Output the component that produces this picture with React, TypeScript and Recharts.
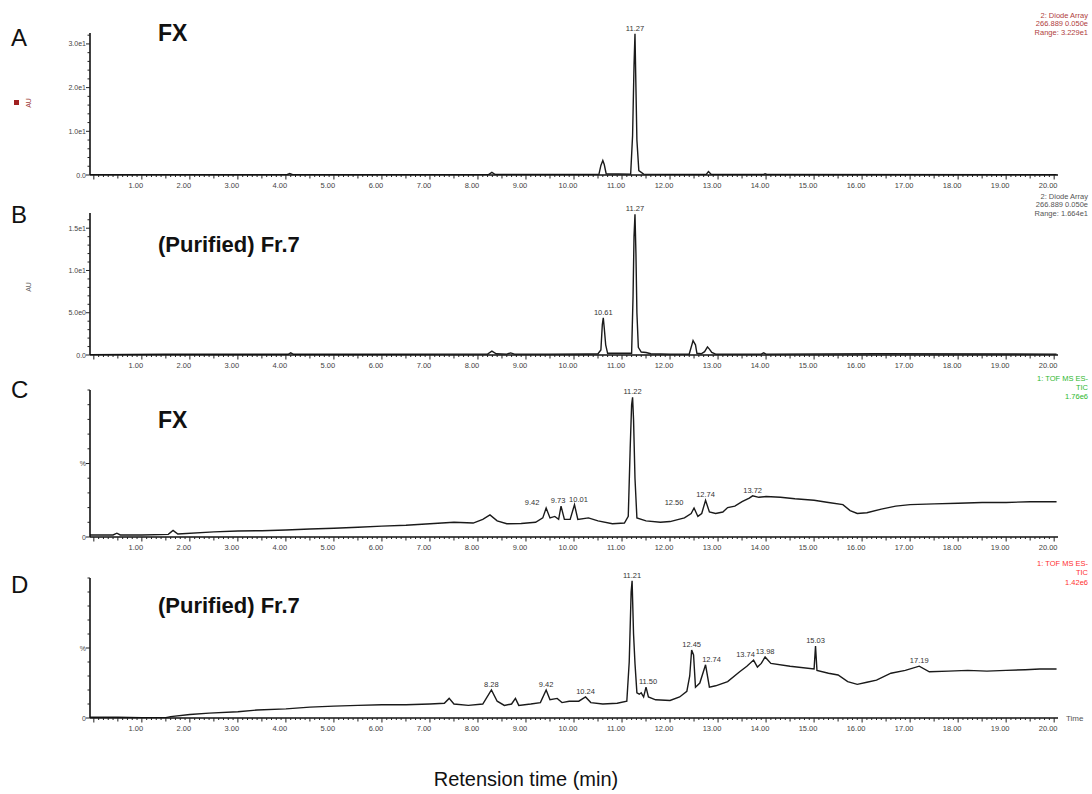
import React from 'react';
import { LineChart, Line, XAxis, YAxis, ReferenceDot } from 'recharts';

const FONT = 'Arial, "Liberation Sans", Helvetica, sans-serif';

// ---------- data: [retention time (min), response] ----------
const traceA: [number, number][] = [
  [-0.08, 0.05], [1.0, 0.05], [2.0, 0.08], [4.02, 0.08], [4.08, 0.35], [4.14, 0.08], [6.0, 0.08],
  [8.22, 0.1], [8.29, 0.6], [8.36, 0.12], [10.0, 0.1], [10.52, 0.2], [10.56, 2.2], [10.6, 3.3],
  [10.63, 2.4], [10.67, 0.3], [11.18, 0.2], [11.22, 9], [11.25, 25], [11.27, 32.3], [11.29, 20],
  [11.31, 8], [11.35, 1], [11.45, 0.2], [12.75, 0.1], [12.8, 0.8], [12.86, 0.1], [13.94, 0.1],
  [13.98, 0.3], [14.03, 0.1], [20.05, 0.05],
];

const traceB: [number, number][] = [
  [-0.08, 0.05], [1.5, 0.08], [3.0, 0.08], [4.05, 0.08], [4.1, 0.25], [4.16, 0.08], [6.0, 0.08],
  [7.5, 0.1], [8.2, 0.12], [8.29, 0.45], [8.38, 0.15], [8.6, 0.1], [8.68, 0.25], [8.76, 0.1],
  [9.5, 0.1], [10.3, 0.12], [10.5, 0.15], [10.56, 0.6], [10.59, 3.6], [10.61, 4.4], [10.63, 3.2],
  [10.66, 1.2], [10.7, 0.2], [11.2, 0.2], [11.23, 7], [11.25, 14], [11.27, 16.64], [11.29, 12],
  [11.31, 5], [11.34, 0.9], [11.4, 0.35], [11.5, 0.3], [11.6, 0.15], [12.0, 0.1], [12.4, 0.12],
  [12.48, 1.7], [12.5, 1.5], [12.53, 1.2], [12.56, 0.2], [12.65, 0.15], [12.72, 0.4], [12.78, 0.95],
  [12.82, 0.7], [12.87, 0.3], [12.95, 0.1], [13.9, 0.1], [13.95, 0.25], [14.0, 0.1], [16.3, 0.15],
  [20.05, 0.1],
];

const traceC: [number, number][] = [
  [-0.08, 1.4], [0.4, 1.4], [0.48, 2.6], [0.55, 1.4], [1.0, 1.4], [1.55, 1.8], [1.65, 4.5], [1.75, 2.0],
  [2.5, 3.5], [3.0, 4.1], [3.5, 4.3], [4.0, 4.8], [4.5, 5.4], [5.0, 6.0], [5.5, 6.6], [6.0, 7.4],
  [6.5, 8.0], [7.0, 9.0], [7.5, 10.0], [7.9, 9.5], [8.1, 12], [8.25, 15], [8.4, 11], [8.6, 9],
  [8.9, 9.2], [9.2, 10], [9.35, 13], [9.42, 19.7], [9.5, 13], [9.6, 14], [9.68, 12], [9.73, 21],
  [9.8, 12], [9.92, 12], [10.01, 22], [10.08, 12], [10.3, 13], [10.5, 11], [10.8, 9], [11.05, 9.5],
  [11.13, 14], [11.17, 60], [11.2, 90], [11.22, 95], [11.24, 80], [11.27, 40], [11.31, 13], [11.5, 11],
  [11.8, 10], [12.0, 10.5], [12.3, 13], [12.44, 16], [12.5, 19.7], [12.58, 14], [12.66, 16], [12.74, 25],
  [12.82, 17], [12.95, 16], [13.1, 17], [13.2, 20], [13.35, 21], [13.5, 24], [13.65, 26.5], [13.72, 28],
  [13.85, 27], [14.0, 27.5], [14.3, 27], [14.6, 26], [15.0, 25], [15.3, 23.5], [15.6, 22], [15.75, 18],
  [15.9, 16], [16.1, 16.5], [16.4, 19], [16.7, 21], [17.0, 22], [17.5, 22.5], [18.0, 23], [18.5, 23.5],
  [19.0, 23.5], [19.5, 24], [20.05, 24],
];

const traceD: [number, number][] = [
  [-0.08, 0.5], [0.5, 0.5], [1.0, 0.3], [1.5, 0.3], [1.6, 1.0], [2.0, 2.5], [2.4, 3.5], [3.0, 4.5],
  [3.4, 5.7], [4.0, 6.5], [4.5, 7.8], [5.0, 8.5], [5.5, 9], [6.0, 9.5], [6.5, 9.5], [7.0, 10],
  [7.3, 10.5], [7.4, 14], [7.5, 10], [7.8, 9], [8.1, 10], [8.28, 20], [8.4, 12], [8.55, 9],
  [8.7, 10], [8.78, 14], [8.85, 9], [9.1, 10], [9.3, 11], [9.42, 20], [9.5, 13], [9.65, 14],
  [9.75, 11], [9.9, 12], [10.1, 12], [10.24, 15], [10.35, 11], [10.6, 10], [10.9, 10.5], [11.1, 12],
  [11.15, 40], [11.19, 90], [11.21, 98], [11.24, 60], [11.27, 39], [11.31, 18], [11.36, 17], [11.4, 18],
  [11.45, 15], [11.5, 22], [11.55, 15], [11.7, 13], [12.0, 12.5], [12.2, 15], [12.35, 19], [12.41, 30],
  [12.45, 48.6], [12.49, 45], [12.53, 22], [12.62, 25], [12.74, 38], [12.82, 22], [12.95, 23], [13.2, 26],
  [13.45, 33], [13.6, 37], [13.74, 41.4], [13.82, 36.4], [13.9, 39], [13.98, 43.6], [14.1, 39], [14.5, 37],
  [15.0, 35], [15.03, 51.4], [15.06, 34], [15.3, 32], [15.5, 30.7], [15.7, 26], [15.9, 24], [16.1, 25.5],
  [16.3, 27], [16.6, 32], [16.9, 34], [17.19, 37], [17.4, 33], [17.8, 33.5], [18.2, 34], [18.6, 33.5],
  [19.0, 34], [19.4, 34.5], [19.7, 35], [20.05, 35],
];

// ---------- peak labels: [time, response, text, dx] ----------
const peaksA: [number, number, string, number][] = [[11.27, 32.3, '11.27', 0]];
const peaksB: [number, number, string, number][] = [[11.27, 16.64, '11.27', 0], [10.61, 4.4, '10.61', 0]];
const peaksC: [number, number, string, number][] = [
  [9.42, 19.7, '9.42', -14], [9.73, 21, '9.73', -3], [10.01, 22, '10.01', 4], [11.22, 95, '11.22', 0],
  [12.5, 19.7, '12.50', -20], [12.74, 25, '12.74', 0], [13.72, 28, '13.72', 0],
];
const peaksD: [number, number, string, number][] = [
  [8.28, 20, '8.28', 0], [9.42, 20, '9.42', 0], [10.24, 15, '10.24', 0], [11.21, 98, '11.21', 0],
  [11.5, 22, '11.50', 2], [12.45, 48.6, '12.45', 0], [12.74, 38, '12.74', 6], [13.74, 41.4, '13.74', -8],
  [13.98, 43.6, '13.98', 0], [15.03, 51.4, '15.03', 0], [17.19, 37, '17.19', 0],
];

// ---------- axis ticks ----------
const xTickLabels = ['1.00', '2.00', '3.00', '4.00', '5.00', '6.00', '7.00', '8.00', '9.00', '10.00',
  '11.00', '12.00', '13.00', '14.00', '15.00', '16.00', '17.00', '18.00', '19.00', '20.00'];
const xMinorTicks: number[] = Array.from({ length: 201 }, (_, i) => i / 10);

const yTicksA = [0, 2, 4, 6, 8, 10, 12, 14, 16, 18, 20, 22, 24, 26, 28, 30, 32];
const yLabelsA: Record<number, string> = { 0: '0.0', 10: '1.0e1', 20: '2.0e1', 30: '3.0e1' };
const yTicksB = [0, 1, 2, 3, 4, 5, 6, 7, 8, 9, 10, 11, 12, 13, 14, 15, 16];
const yLabelsB: Record<number, string> = { 0: '0.0', 5: '5.0e0', 10: '1.0e1', 15: '1.5e1' };
const yTicksPct = [0, 10, 20, 30, 40, 50, 60, 70, 80, 90, 100];
const yLabelsPct: Record<number, string> = { 0: '0', 50: '%' };

const X_DOMAIN: [number, number] = [-0.08, 20.08];

const XTick = (props: any) => {
  const { x, y, payload } = props;
  const r = Math.round(payload.value * 10);
  const major = r % 10 === 0;
  const half = r % 5 === 0;
  const len = major ? 4.5 : half ? 3.5 : 2;
  const lab = major && r > 0 ? xTickLabels[r / 10 - 1] : null;
  return (
    <g>
      <line x1={x} x2={x} y1={y} y2={y + len} stroke="#222" strokeWidth={1} />
      {lab && (
        <text x={x - 6} y={y + 12.5} textAnchor="middle" fontSize={7.5} fill="#444" fontFamily={FONT}>
          {lab}
        </text>
      )}
    </g>
  );
};

const makeYTick = (labels: Record<number, string>) => (props: any) => {
  const { x, y, payload } = props;
  const lab = labels[payload.value];
  const len = lab !== undefined ? 4 : 2.5;
  return (
    <g>
      <line x1={x - len} x2={x} y1={y} y2={y} stroke="#222" strokeWidth={1} />
      {lab !== undefined && (
        <text x={x - 4} y={y + 2.5} textAnchor="end" fontSize={7} fill="#444" fontFamily={FONT}>
          {lab}
        </text>
      )}
    </g>
  );
};

const peakLabel = (text: string, dx: number) => (props: any) => {
  const vb = props.viewBox || { x: props.x, y: props.y, width: 0, height: 0 };
  const cx = vb.x + (vb.width || 0) / 2;
  const cy = vb.y;
  return (
    <text x={cx + dx} y={cy - 3} textAnchor="middle" fontSize={7.5} fill="#333" fontFamily={FONT}>
      {text}
    </text>
  );
};

type PanelProps = {
  top: number;
  height: number;
  marginTop: number;
  trace: [number, number][];
  yMax: number;
  yTicks: number[];
  yLabels: Record<number, string>;
  peaks: [number, number, string, number][];
};

function Panel({ top, height, marginTop, trace, yMax, yTicks, yLabels, peaks }: PanelProps) {
  const data = trace.map(([t, v]) => ({ t, v }));
  return (
    <div style={{ position: 'absolute', left: 0, top, width: 1092, height }}>
      <LineChart width={1092} height={height} data={data} margin={{ top: marginTop, right: 34, bottom: 0, left: 30 }}>
        <XAxis
          dataKey="t"
          type="number"
          domain={X_DOMAIN}
          allowDataOverflow
          ticks={xMinorTicks}
          interval={0}
          tick={XTick}
          tickLine={false}
          tickSize={0}
          tickMargin={0}
          height={20}
          axisLine={{ stroke: '#111', strokeWidth: 1.6 }}
        />
        <YAxis
          type="number"
          domain={[0, yMax]}
          allowDataOverflow
          ticks={yTicks}
          interval={0}
          tick={makeYTick(yLabels)}
          tickLine={false}
          tickSize={0}
          tickMargin={0}
          width={60}
          axisLine={{ stroke: '#111', strokeWidth: 1.6 }}
        />
        <Line
          dataKey="v"
          type="linear"
          stroke="#1a1a1a"
          strokeWidth={1.4}
          dot={false}
          activeDot={false}
          isAnimationActive={false}
        />
        {peaks.map(([t, v, text, dx]) => (
          <ReferenceDot
            key={text + t}
            x={t}
            y={v}
            r={0}
            fill="none"
            stroke="none"
            ifOverflow="visible"
            label={peakLabel(text, dx)}
          />
        ))}
      </LineChart>
    </div>
  );
}

export default function App() {
  const rightTxt = (lines: string[], ys: number[], color: string) =>
    lines.map((l, i) => (
      <text key={l + i} x={1088} y={ys[i]} textAnchor="end" fontSize={7.5} fill={color} fontFamily={FONT}>
        {l}
      </text>
    ));
  return (
    <div style={{ position: 'absolute', left: 0, top: 0, width: 1092, height: 794, background: '#fff', fontFamily: FONT }}>
      <Panel top={0} height={195} marginTop={33} trace={traceA} yMax={32.5} yTicks={yTicksA} yLabels={yLabelsA} peaks={peaksA} />
      <Panel top={195} height={180} marginTop={18} trace={traceB} yMax={16.8} yTicks={yTicksB} yLabels={yLabelsB} peaks={peaksB} />
      <Panel top={375} height={182} marginTop={15} trace={traceC} yMax={100} yTicks={yTicksPct} yLabels={yLabelsPct} peaks={peaksC} />
      <Panel top={557} height={181} marginTop={21} trace={traceD} yMax={100} yTicks={yTicksPct} yLabels={yLabelsPct} peaks={peaksD} />
      <svg width={1092} height={794} style={{ position: 'absolute', left: 0, top: 0, pointerEvents: 'none' }}>
        <g fontFamily={FONT} fill="#111">
          <text x={11} y={46} fontSize={24}>A</text>
          <text x={11} y={223} fontSize={24}>B</text>
          <text x={11} y={398} fontSize={24}>C</text>
          <text x={11} y={593} fontSize={24}>D</text>
          <text x={158} y={41} fontSize={23} fontWeight="bold">FX</text>
          <text x={158} y={252} fontSize={22} fontWeight="bold">(Purified) Fr.7</text>
          <text x={158} y={428} fontSize={23} fontWeight="bold">FX</text>
          <text x={158} y={613} fontSize={22} fontWeight="bold">(Purified) Fr.7</text>
          <text x={526} y={786} fontSize={20} textAnchor="middle">Retension time (min)</text>
          <text x={1066} y={721} fontSize={8} fill="#555">Time</text>
        </g>
        <rect x={14} y={100} width={5} height={5} fill="#a02020" />
        <text x={0} y={0} transform="translate(31,103) rotate(-90)" textAnchor="middle" fontSize={7} fill="#a04040" fontFamily={FONT}>AU</text>
        <text x={0} y={0} transform="translate(31,287) rotate(-90)" textAnchor="middle" fontSize={7} fill="#666" fontFamily={FONT}>AU</text>
        {rightTxt(['2: Diode Array', '266.889 0.050e', 'Range: 3.229e1'], [18, 26, 35], '#b04040')}
        {rightTxt(['2: Diode Array', '266.889 0.050e', 'Range: 1.664e1'], [199, 207, 216], '#555')}
        {rightTxt(['1: TOF MS ES-', 'TIC', '1.76e6'], [381, 390, 399], '#2db82d')}
        {rightTxt(['1: TOF MS ES-', 'TIC', '1.42e6'], [566, 575, 585], '#ff3030')}
      </svg>
    </div>
  );
}
